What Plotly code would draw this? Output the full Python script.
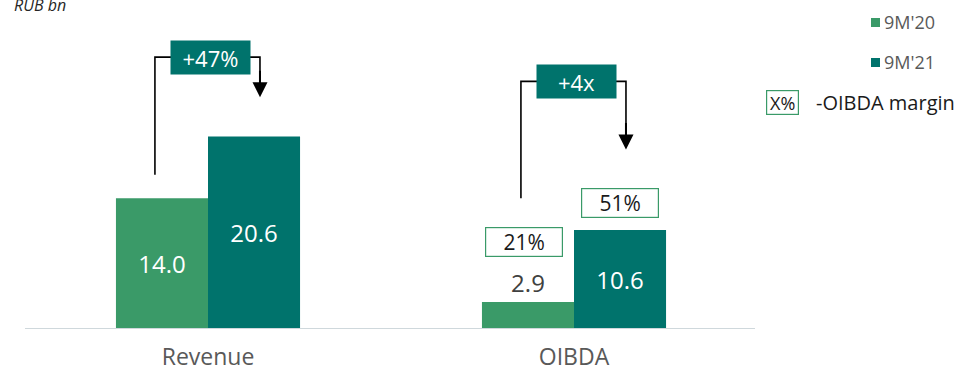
import plotly.graph_objects as go

# Data (RUB bn)
categories = ["Revenue", "OIBDA"]
series_names = ["9M'20", "9M'21"]
values_20 = [14.0, 2.9]
values_21 = [20.6, 10.6]
margins_pct = ["21%", "51%"]          # OIBDA margin for 9M'20, 9M'21
growth_labels = ["+47%", "+4x"]

GREEN = "#3A9A68"
TEAL = "#00736C"
FONT = "Open Sans"

W, H = 962, 366
ML, MR, MT, MB = 25, 205, 2, 37
YMAX = 35.0

fig = go.Figure()
fig.add_trace(go.Bar(
    x=categories, y=values_20, name=series_names[0], marker_color=GREEN,
    marker_line_width=0,
    text=[f"{v:.1f}" for v in values_20],
    textposition=["inside", "outside"],
    insidetextanchor="middle",
    textfont=dict(family=FONT, size=24, color=["white", "#404040"]),
    outsidetextfont=dict(family=FONT, size=24, color="#404040"),
    cliponaxis=False, showlegend=False,
))
fig.add_trace(go.Bar(
    x=categories, y=values_21, name=series_names[1], marker_color=TEAL,
    marker_line_width=0,
    text=[f"{v:.1f}" for v in values_21],
    textposition="inside", insidetextanchor="middle",
    textfont=dict(family=FONT, size=24, color="white"),
    cliponaxis=False, showlegend=False,
))

half = (1 - 0.497) / 4  # offset of each bar centre from its category centre

shapes = []
annotations = []

# Growth brackets: a line rising from the left bar, over to a label, and an arrow down to the right bar
bracket_specs = [
    # (category index, left line bottom, bracket height, arrow end)
    (0, values_20[0] + 2.5, 29.1, values_21[0] + 4.2),
    (1, values_20[1] + 11.1, 26.5, values_21[1] + 8.6),
]
for (i, y_lo, y_top, y_arrow), label in zip(bracket_specs, growth_labels):
    x_left = i - 0.145
    x_lab = i + 0.008
    x_right = i + 0.142
    shapes.append(dict(type="path", xref="x", yref="y",
                       path=f"M {x_left},{y_lo} L {x_left},{y_top} L {x_right},{y_top} L {x_right},{y_arrow + 1.2}",
                       line=dict(color="black", width=1.6)))
    annotations.append(dict(x=x_right, y=y_arrow, xref="x", yref="y",
                            ax=x_right, ay=y_arrow + 3.0, axref="x", ayref="y",
                            text="", showarrow=True, arrowhead=2, arrowsize=1.5,
                            arrowwidth=2.0, arrowcolor="black"))
    annotations.append(dict(x=x_lab, y=y_top, xref="x", yref="y",
                            text=label, showarrow=False,
                            font=dict(family=FONT, size=22, color="white"),
                            bgcolor=TEAL, width=77, height=31,
                            xanchor="center", yanchor="middle"))

# OIBDA margin boxes above the OIBDA bars
margin_y = [values_20[1] + 6.4, values_21[1] + 2.9]
margin_x = [1 - half - 0.012, 1 + half]
for xm, ym, txt in zip(margin_x, margin_y, margins_pct):
    annotations.append(dict(x=xm, y=ym, xref="x", yref="y", text=txt,
                            showarrow=False,
                            font=dict(family=FONT, size=21, color="#1a1a1a"),
                            bordercolor=GREEN, borderwidth=1.2, bgcolor="white",
                            width=72, height=24, borderpad=2,
                            xanchor="center", yanchor="middle"))

# Baseline
shapes.append(dict(type="line", xref="paper", yref="y", x0=0, x1=(755 - ML) / (W - ML - MR),
                   y0=0, y1=0, line=dict(color="#CFD8DC", width=2)))

# Legend drawn manually in paper coordinates
PW = W - ML - MR
PH = H - MT - MB

def px(xp):
    return (xp - ML) / PW

def py(yp):
    return (H - MB - yp) / PH

for name, color, yc in [(series_names[0], GREEN, 22), (series_names[1], TEAL, 62)]:
    shapes.append(dict(type="rect", xref="paper", yref="paper",
                       x0=px(871), x1=px(880), y0=py(yc + 5), y1=py(yc - 4),
                       fillcolor=color, line=dict(width=0)))
    annotations.append(dict(x=px(882), y=py(yc), xref="paper", yref="paper",
                            text=name, showarrow=False, xanchor="left", yanchor="middle",
                            font=dict(family=FONT, size=18, color="#595959")))

annotations.append(dict(x=px(782), y=py(102), xref="paper", yref="paper",
                        text="X%", showarrow=False, xanchor="center", yanchor="middle",
                        font=dict(family=FONT, size=18, color="#1a1a1a"),
                        bordercolor=GREEN, borderwidth=1.2, width=29, height=21))
annotations.append(dict(x=px(814), y=py(102), xref="paper", yref="paper",
                        text="-OIBDA margin", showarrow=False, xanchor="left", yanchor="middle",
                        font=dict(family=FONT, size=20, color="#1a1a1a")))

annotations.append(dict(x=px(12), y=py(5), xref="paper", yref="paper",
                        text="<i>RUB bn</i>", showarrow=False, xanchor="left", yanchor="middle",
                        font=dict(family=FONT, size=16, color="#262626")))

fig.update_layout(
    width=W, height=H,
    margin=dict(l=ML, r=MR, t=MT, b=MB, autoexpand=False),
    plot_bgcolor="white", paper_bgcolor="white",
    barmode="group", bargap=0.497, bargroupgap=0,
    xaxis=dict(type="category", range=[-0.5, 1.5], showgrid=False, zeroline=False,
               showline=False, ticks="", ticklabelstandoff=12, automargin=False,
               tickfont=dict(family=FONT, size=23, color="#595959")),
    yaxis=dict(range=[0, YMAX], visible=False, automargin=False),
    shapes=shapes, annotations=annotations,
    uniformtext=dict(mode=False),
)

fig.write_html("out.html")
